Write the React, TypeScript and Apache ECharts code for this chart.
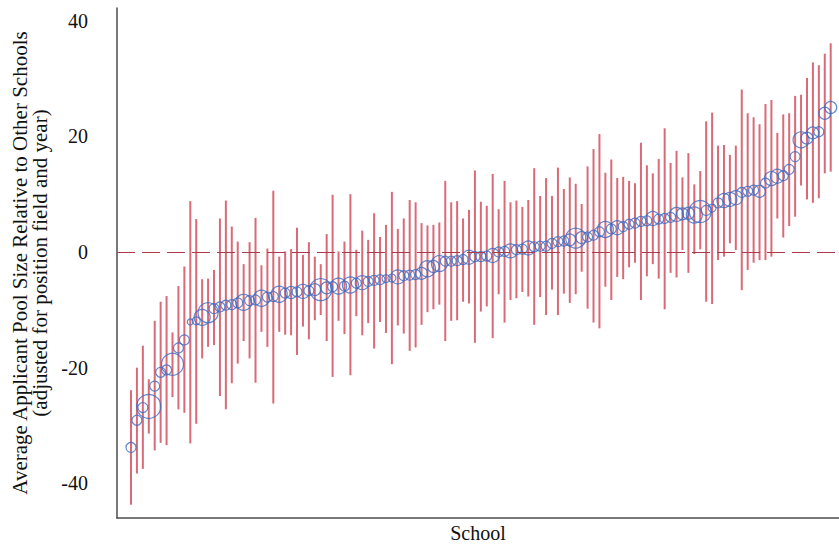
import React, { useEffect, useRef } from "react";
import * as echarts from "echarts";

// School rank order (1..119), sorted by estimate
const estimate: number[] = [
  -33.8, -29.1, -26.9, -26.7, -23.2, -20.8, -20.4, -19.4, -16.6, -15.2,
  -12.1, -11.9, -11.3, -10.5, -9.8, -9.5, -9.2, -9.1, -8.8, -8.7,
  -8.4, -8.3, -8.0, -7.8, -7.7, -7.3, -7.1, -7.0, -6.9, -6.8,
  -6.7, -6.5, -6.5, -6.2, -6.0, -5.9, -5.9, -5.7, -5.4, -5.3,
  -5.1, -4.9, -4.8, -4.6, -4.5, -4.3, -4.1, -4.0, -3.9, -3.7,
  -2.9, -2.5, -2.0, -1.6, -1.6, -1.5, -1.3, -0.9, -0.8, -0.8,
  -0.7, -0.6, 0.0, 0.1, 0.2, 0.4, 0.5, 0.7, 0.9, 1.0,
  1.0, 1.5, 1.8, 1.9, 2.1, 2.4, 2.5, 2.6, 2.9, 3.5,
  3.9, 4.0, 4.2, 4.4, 4.8, 5.0, 5.3, 5.4, 5.8, 5.7,
  5.8, 6.0, 6.5, 6.6, 6.7, 6.4, 7.0, 7.2, 7.6, 8.5,
  8.9, 9.1, 9.4, 10.3, 10.5, 10.7, 10.5, 11.9, 12.7, 13.1,
  13.2, 14.3, 16.5, 19.4, 19.7, 20.6, 20.8, 24.0, 25.0,
];

const ciLow: number[] = [
  -43.7, -38.3, -37.5, -31.4, -34.3, -33.0, -33.4, -25.1, -27.2, -27.8,
  -33.1, -29.7, -18.4, -16.4, -16.1, -24.9, -27.2, -22.7, -19.3, -15.4,
  -18.4, -22.6, -13.8, -16.4, -26.2, -13.8, -14.3, -14.4, -17.8, -12.9,
  -15.1, -11.8, -10.9, -15.4, -21.6, -11.9, -14.2, -21.3, -11.1, -14.4,
  -12.3, -16.7, -12.1, -14.0, -19.4, -12.7, -14.1, -17.1, -16.5, -12.6,
  -10.4, -9.9, -9.1, -15.4, -11.9, -11.8, -8.6, -8.9, -15.7, -10.3,
  -9.4, -14.9, -7.3, -12.2, -8.3, -8.0, -6.9, -7.7, -12.6, -7.8,
  -10.9, -6.5, -10.9, -7.2, -8.8, -7.3, -3.4, -9.8, -12.2, -13.2,
  -6.0, -8.3, -4.3, -4.7, -2.65, -1.85, -8.3, -4.2, -2.1, -4.6,
  -9.9, -3.6, -4.4, 0.35, -3.6, -0.35, 0.46, -8.6, -9.0, -1.4,
  -0.8, 1.5, 0.35, -6.6, -3.1, -1.85, -1.4, -1.4, -0.8, 5.8,
  2.5, 4.5, 6.1, 11.5, 9.1, 8.5, 9.3, 13.6, 13.9,
];

const ciHigh: number[] = [
  -23.9, -20.0, -16.2, -22.0, -11.9, -8.6, -7.6, -13.9, -5.9, -2.5,
  8.8, 5.7, -4.7, -4.6, -3.1, 5.8, 8.9, 4.4, 1.8, -2.1,
  1.7, 5.9, -2.3, 0.6, 10.6, -0.8, 0.1, 0.5, 4.2, -0.5,
  1.7, -0.8, -2.1, 3.1, 9.9, 0.1, 1.8, 10.0, 0.4, 3.7,
  2.1, 6.7, 2.6, 4.7, 10.4, 4.0, 5.8, 9.0, 8.6, 5.0,
  4.6, 4.7, 5.1, 12.3, 8.6, 8.8, 5.8, 7.3, 14.1, 8.7,
  8.0, 13.5, 7.4, 12.3, 8.6, 8.9, 7.8, 9.0, 14.5, 9.7,
  12.8, 9.7, 14.6, 10.9, 12.9, 11.8, 8.3, 14.8, 17.8, 20.4,
  13.7, 16.0, 12.8, 13.0, 12.3, 11.9, 18.9, 15.0, 13.6, 16.1,
  21.4, 15.4, 17.5, 12.9, 17.1, 11.7, 14.0, 22.6, 24.1, 18.4,
  18.5, 16.8, 18.4, 28.1, 24.0, 23.3, 22.1, 25.6, 26.3, 20.6,
  23.8, 24.0, 27.0, 27.2, 30.1, 32.8, 32.3, 34.3, 36.1,
];

// marker radius (relative weight of school)
const markerRadius: number[] = [
  5, 5, 5, 12, 5, 5, 5, 11, 5, 5,
  3, 4, 8, 10, 5, 5, 5, 5, 5, 8,
  5, 5, 8, 5, 5, 8, 5, 6, 5, 7,
  5, 6, 11, 6, 5, 8, 5, 8, 5, 7,
  5, 5, 5, 4, 4, 7, 5, 5, 5, 6,
  8, 6, 8, 5, 5, 5, 5, 7, 5, 5,
  5, 7, 5, 5, 7, 5, 5, 7, 5, 5,
  5, 5, 5, 5, 6, 10, 6, 5, 5, 5,
  8, 5, 7, 5, 5, 5, 5, 5, 7, 5,
  5, 5, 7, 6, 6, 8, 11, 5, 4, 5,
  7, 7, 7, 5, 5, 5, 6, 5, 7, 7,
  5, 5, 5, 8, 6, 6, 5, 6, 6,
];

const yTicks: number[] = [-40, -20, 0, 20, 40];

const FONT = "'Liberation Serif', 'DejaVu Serif', serif";

export default function App() {
  const ref = useRef<HTMLDivElement>(null);

  useEffect(() => {
    document.body.style.margin = "0";
    if (!ref.current) return;
    const chart = echarts.init(ref.current, undefined, { renderer: "svg" });

    const barData = estimate.map((_, i) => [i + 1, ciLow[i], ciHigh[i]]);
    const pointData = estimate.map((v, i) => [i + 1, v, markerRadius[i]]);

    chart.setOption({
      animation: false,
      backgroundColor: "#ffffff",
      grid: {
        left: 117,
        right: 0,
        top: 8,
        bottom: 27,
        containLabel: false,
        outerBoundsMode: "none",
      },
      xAxis: {
        type: "value",
        min: -1.36,
        max: 120.4,
        axisLabel: { show: false },
        axisTick: { show: false },
        splitLine: { show: false },
        axisLine: { show: true, onZero: false, lineStyle: { color: "#4d4d4d", width: 1.5 } },
        name: "School",
        nameLocation: "middle",
        nameGap: 5,
        nameTextStyle: { fontFamily: FONT, fontSize: 20, color: "#111", lineHeight: 20 },
      },
      yAxis: {
        type: "value",
        min: -46,
        max: 42.2,
        axisLabel: {
          customValues: yTicks,
          fontFamily: FONT,
          fontSize: 20,
          color: "#111",
          margin: 29,
        },
        axisTick: { show: false },
        splitLine: { show: false },
        axisLine: { show: true, onZero: false, lineStyle: { color: "#4d4d4d", width: 1.5 } },
        name:
          "Average Applicant Pool Size Relative to Other Schools\n(adjusted for position field and year)",
        nameLocation: "middle",
        nameRotate: 90,
        nameGap: 61,
        nameTextStyle: { fontFamily: FONT, fontSize: 21, color: "#111", lineHeight: 20 },
      },
      series: [
        {
          type: "custom",
          data: barData,
          encode: { x: 0, y: [1, 2] },
          renderItem: (params: any, api: any) => {
            const x = api.value(0);
            const p1 = api.coord([x, api.value(2)]);
            const p2 = api.coord([x, api.value(1)]);
            return {
              type: "line",
              shape: { x1: p1[0], y1: p1[1], x2: p2[0], y2: p2[1] },
              style: { stroke: "#d65a68", lineWidth: 2, opacity: 0.9 },
            };
          },
          z: 2,
          markLine: {
            silent: true,
            symbol: "none",
            label: { show: false },
            lineStyle: { type: [18, 7], color: "#ad3a48", width: 1.2 },
            data: [{ yAxis: 0 }],
          },
        },
        {
          type: "scatter",
          data: pointData,
          symbol: "circle",
          symbolSize: (v: number[]) => v[2] * 2,
          itemStyle: {
            color: "rgba(0,0,0,0)",
            borderColor: "#3f6cc2",
            borderWidth: 1.2,
          },
          z: 3,
        },
      ],
    });

    return () => chart.dispose();
  }, []);

  return (
    <div
      ref={ref}
      style={{ position: "absolute", left: 0, top: 0, width: 839, height: 545 }}
    />
  );
}
